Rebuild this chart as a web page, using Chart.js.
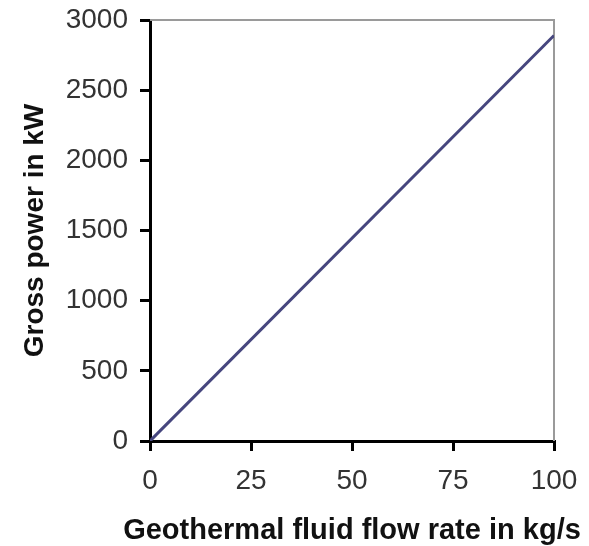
<!DOCTYPE html>
<html>
<head>
<meta charset="utf-8">
<script src="https://cdn.jsdelivr.net/npm/chart.js@4"></script>
<style>
html,body{margin:0;padding:0;background:#fff;}
#wrap{width:589px;height:546px;}
</style>
</head>
<body>
<div id="wrap"><canvas id="c" width="589" height="546"></canvas></div>
<script>
const flowRate = [0, 100];
const grossPower = [0, 2890];
const xTicks = [0, 25, 50, 75, 100];
const yTicks = [0, 500, 1000, 1500, 2000, 2500, 3000];
const xTitle = 'Geothermal fluid flow rate in kg/s';
const yTitle = 'Gross power in kW';

const points = flowRate.map((x, i) => ({x: x, y: grossPower[i]}));
const fontFam = '"Liberation Sans", Arial, sans-serif';

const frame = {
  id: 'frame',
  beforeDatasetsDraw(chart) {
    const {ctx, chartArea: a} = chart;
    ctx.save();
    ctx.strokeStyle = '#9a9a9a';
    ctx.lineWidth = 2;
    ctx.beginPath();
    ctx.moveTo(a.left, a.top);
    ctx.lineTo(a.right, a.top);
    ctx.lineTo(a.right, a.bottom);
    ctx.stroke();
    ctx.restore();
  },
  afterDraw(chart) {
    const {ctx, chartArea: a} = chart;
    ctx.save();
    ctx.fillStyle = '#111';
    ctx.font = 'bold 29px ' + fontFam;
    ctx.textAlign = 'center';
    ctx.textBaseline = 'middle';
    ctx.fillText(xTitle, (a.left + a.right) / 2, 531);
    ctx.restore();
  }
};

new Chart(document.getElementById('c'), {
  type: 'scatter',
  data: {
    datasets: [{
      data: points,
      showLine: true,
      borderColor: '#46467e',
      borderWidth: 3,
      pointRadius: 0,
      fill: false
    }]
  },
  options: {
    responsive: false,
    animation: false,
    layout: {padding: {left: 14, right: 35, top: 20, bottom: 0}},
    plugins: {legend: {display: false}, tooltip: {enabled: false}},
    scales: {
      x: {
        type: 'linear', min: 0, max: 100,
        afterBuildTicks: s => { s.ticks = xTicks.map(v => ({value: v})); },
        afterFit: s => { s.height = 105; s.paddingLeft = 0; s.paddingRight = 0; },
        grid: {display: true, drawOnChartArea: false, drawTicks: true, tickLength: 10, color: '#000', lineWidth: 3},
        border: {display: true, color: '#000', width: 3},
        ticks: {color: '#333', font: {family: fontFam, size: 28}, padding: 13, maxRotation: 0, callback: v => String(v)},
        title: {display: false}
      },
      y: {
        type: 'linear', min: 0, max: 3000,
        afterBuildTicks: s => { s.ticks = yTicks.map(v => ({value: v})); },
        afterFit: s => { s.width = 136; s.paddingTop = 0; s.paddingBottom = 0; },
        grid: {display: true, drawOnChartArea: false, drawTicks: true, tickLength: 10, color: '#000', lineWidth: 3},
        border: {display: true, color: '#000', width: 3},
        ticks: {color: '#333', font: {family: fontFam, size: 28}, padding: 12, callback: v => String(v)},
        title: {display: true, text: yTitle, color: '#111', font: {family: fontFam, size: 28, weight: 'bold'}, padding: {bottom: 0}}
      }
    }
  },
  plugins: [frame]
});
</script>
</body>
</html>
